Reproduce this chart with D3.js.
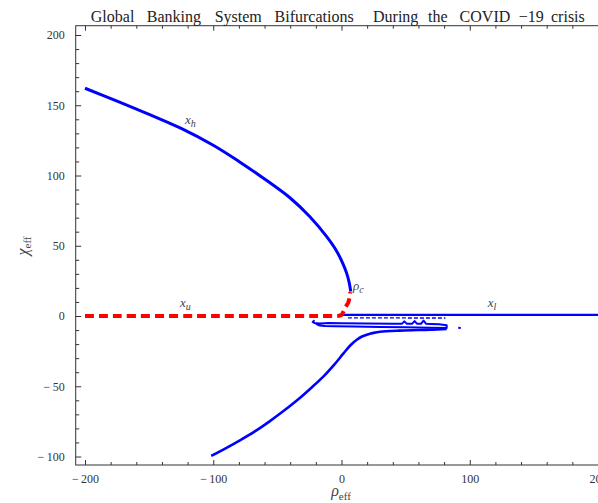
<!DOCTYPE html>
<html><head><meta charset="utf-8">
<script src="https://cdn.jsdelivr.net/npm/d3@7"></script>
<style>
html,body{margin:0;padding:0;background:#fff;}
svg{display:block;}
text{font-family:"Liberation Serif","Times New Roman",serif;}
</style></head>
<body>
<svg id="c" width="598" height="503"></svg>
<script>
// ---- data ----
const titleWords = ["Global", "Banking", "System", "Bifurcations", "During", "the", "COVID", "\u221219", "crisis"];
const xMajorTicks = [-200, -100, 0, 100, 200];
const yMajorTicks = [-100, -50, 0, 50, 100, 150, 200];

// stable high branch x_h
const upperRho = [-200, -175, -150, -125, -100, -80, -60, -40, -25, -12, -4, 1, 4, 6, 7.2];
const upperChi = [162.1, 153, 143.5, 133.5, 121.5, 110, 97.5, 84, 71, 57, 46.5, 37.5, 30.5, 23.8, 17.4];

// lower branch
const lowerRho = [-101.6, -90, -79.2, -67, -55.8, -45, -33.7, -24, -14.2, -6, 1.4, 7, 11.9, 16, 19.7, 25, 30, 45, 60, 75, 82];
const lowerChi = [-99.6, -94, -88.5, -81.8, -74.8, -67.5, -59.3, -51.5, -43.2, -35, -26.8, -20.8, -16.9, -14.6, -13.3, -12, -11.2, -10.4, -10, -9.6, -9.3];

// unstable branch x_u (dashed)
const unstableRho = [-200, -100, -20, -2, 0, 1.5, 2.7, 4, 5.3, 6.2, 6.9];
const unstableChi = [0, 0, 0, 0.2, 0.8, 3, 5.6, 7.6, 9.6, 13, 17];

// stable low branch x_l
const lowRho = [0, 20, 60, 100, 150, 210];
const lowChi = [0.8, 0.8, 0.8, 0.8, 0.8, 0.8];

// ripple just below x_l
const rippleRho = [5, 30, 60, 81];
const rippleChi = [-1.3, -1.3, -1.4, -1.4];

// small loop / band under x_l
const bandRho = [-21, -22.5, -21, -17, -10, 0, 20, 40, 47, 49, 51, 55, 57, 59, 62, 64, 66, 70, 76, 82, 82, 70, 50, 30, 10, -5, -13, -17, -20];
const bandChi = [-3, -4.2, -5, -5.3, -5.0, -5.1, -5.3, -5.5, -5.6, -3.8, -5.6, -5.6, -3.6, -5.6, -5.6, -3.2, -5.6, -5.7, -5.8, -6.6, -8.6, -8.4, -8.0, -7.8, -7.5, -7.3, -7.2, -6.8, -5.6];

// isolated point
const dotRho = [91, 93];
const dotChi = [-8.4, -8.6];

// curve labels
const labelText = ["x", "x", "x", "\u03c1"];
const labelSub  = ["h", "u", "l", "c"];
const labelRho  = [-122, -126, 114, 9];
const labelChi  = [137, 6.5, 6.5, 18.5];

// ---- layout ----
const svg = d3.select("#c");
const frameL = 75.7, frameT = 25.7, frameB = 465, frameR = 601;
const x = d3.scaleLinear().domain([-200, 200]).range([85, 598]);
const y = d3.scaleLinear().domain([-100, 200]).range([456.5, 35]);
const titleX = [90.8, 146.8, 214.7, 274.6, 373, 428, 459.6, 518.7, 551];

const axisCol = "#333";
const zip = (a, b) => a.map((v, i) => [v, b[i]]);

// frame
svg.append("rect").attr("x", frameL).attr("y", frameT)
  .attr("width", frameR - frameL).attr("height", frameB - frameT)
  .attr("fill", "none").attr("stroke", axisCol).attr("stroke-width", 1);

const fmt = d => d < 0 ? "\u2212\u2009" + Math.abs(d) : String(d);

// bottom axis
const xMinor = d3.range(-200, 201, 20).filter(v => !xMajorTicks.includes(v));
const gb = svg.append("g").attr("transform", `translate(0,${frameB})`);
gb.call(d3.axisBottom(x).tickValues(xMajorTicks).tickSize(-5).tickPadding(9).tickFormat(fmt));
gb.append("g").call(d3.axisBottom(x).tickValues(xMinor).tickSize(-3).tickFormat(""));
// top axis ticks
const gt = svg.append("g").attr("transform", `translate(0,${frameT})`);
gt.call(d3.axisTop(x).tickValues(xMajorTicks).tickSize(-5).tickFormat(""));
gt.append("g").call(d3.axisTop(x).tickValues(xMinor).tickSize(-3).tickFormat(""));
// left axis
const yMinor = d3.range(-100, 201, 10).filter(v => !yMajorTicks.includes(v));
const gl = svg.append("g").attr("transform", `translate(${frameL},0)`);
gl.call(d3.axisLeft(y).tickValues(yMajorTicks).tickSize(-5.5).tickPadding(11).tickFormat(fmt));
gl.append("g").call(d3.axisLeft(y).tickValues(yMinor).tickSize(-3.5).tickFormat(""));

svg.selectAll(".domain").remove();
svg.selectAll(".tick line").attr("stroke", axisCol);
svg.selectAll(".tick text").attr("fill", "#333").style("font-size", "12px")
  .style("font-family", "'Liberation Serif', serif");

// clip for plot
svg.append("clipPath").attr("id", "pc").append("rect")
  .attr("x", frameL).attr("y", frameT).attr("width", frameR - frameL).attr("height", frameB - frameT);
const plot = svg.append("g").attr("clip-path", "url(#pc)");

const line = d3.line().x(d => x(d[0])).y(d => y(d[1]));
const lineCR = d3.line().x(d => x(d[0])).y(d => y(d[1])).curve(d3.curveCatmullRom.alpha(0.5));

plot.append("path").attr("d", lineCR(zip(upperRho, upperChi)))
  .attr("fill", "none").attr("stroke", "#0000ff").attr("stroke-width", 3);
plot.append("path").attr("d", lineCR(zip(lowerRho, lowerChi)))
  .attr("fill", "none").attr("stroke", "#0000ff").attr("stroke-width", 2.6);
plot.append("path").attr("d", line(zip(lowRho, lowChi)))
  .attr("fill", "none").attr("stroke", "#0000ff").attr("stroke-width", 2.4);
plot.append("path").attr("d", line(zip(rippleRho, rippleChi)))
  .attr("fill", "none").attr("stroke", "#0000ff").attr("stroke-width", 1.4)
  .attr("stroke-dasharray", "4,2");
plot.append("path").attr("d", line(zip(bandRho, bandChi)))
  .attr("fill", "none").attr("stroke", "#0000ff").attr("stroke-width", 2)
  .attr("stroke-linejoin", "round");
plot.append("path").attr("d", line(zip(dotRho, dotChi)))
  .attr("fill", "none").attr("stroke", "#0000ff").attr("stroke-width", 2);
plot.append("path").attr("d", lineCR(zip(unstableRho, unstableChi)))
  .attr("fill", "none").attr("stroke", "#ff0000").attr("stroke-width", 4)
  .attr("stroke-dasharray", "9,5");

// curve labels
labelText.forEach((t, i) => {
  const tx = svg.append("text").attr("x", x(labelRho[i])).attr("y", y(labelChi[i]))
    .attr("fill", "#444").style("font-size", "13px").style("font-style", "italic");
  tx.append("tspan").text(t);
  tx.append("tspan").attr("dy", 3).style("font-size", "10px").text(labelSub[i]);
});

// title
const tt = svg.append("text").attr("y", 21.5).attr("fill", "#222").style("font-size", "16px");
titleWords.forEach((w, i) => tt.append("tspan").attr("x", titleX[i]).text(w));

// axis labels
const yl = svg.append("text").attr("transform", "translate(28,246) rotate(-90)")
  .attr("text-anchor", "middle").attr("fill", "#444").style("font-size", "16px");
yl.append("tspan").style("font-style", "italic").text("\u03c7");
yl.append("tspan").attr("dy", 3).style("font-size", "11px").text("eff");

const xl = svg.append("text").attr("x", 341).attr("y", 496)
  .attr("text-anchor", "middle").attr("fill", "#444").style("font-size", "16px");
xl.append("tspan").style("font-style", "italic").text("\u03c1");
xl.append("tspan").attr("dy", 4).style("font-size", "11px").text("eff");
</script>
</body></html>
